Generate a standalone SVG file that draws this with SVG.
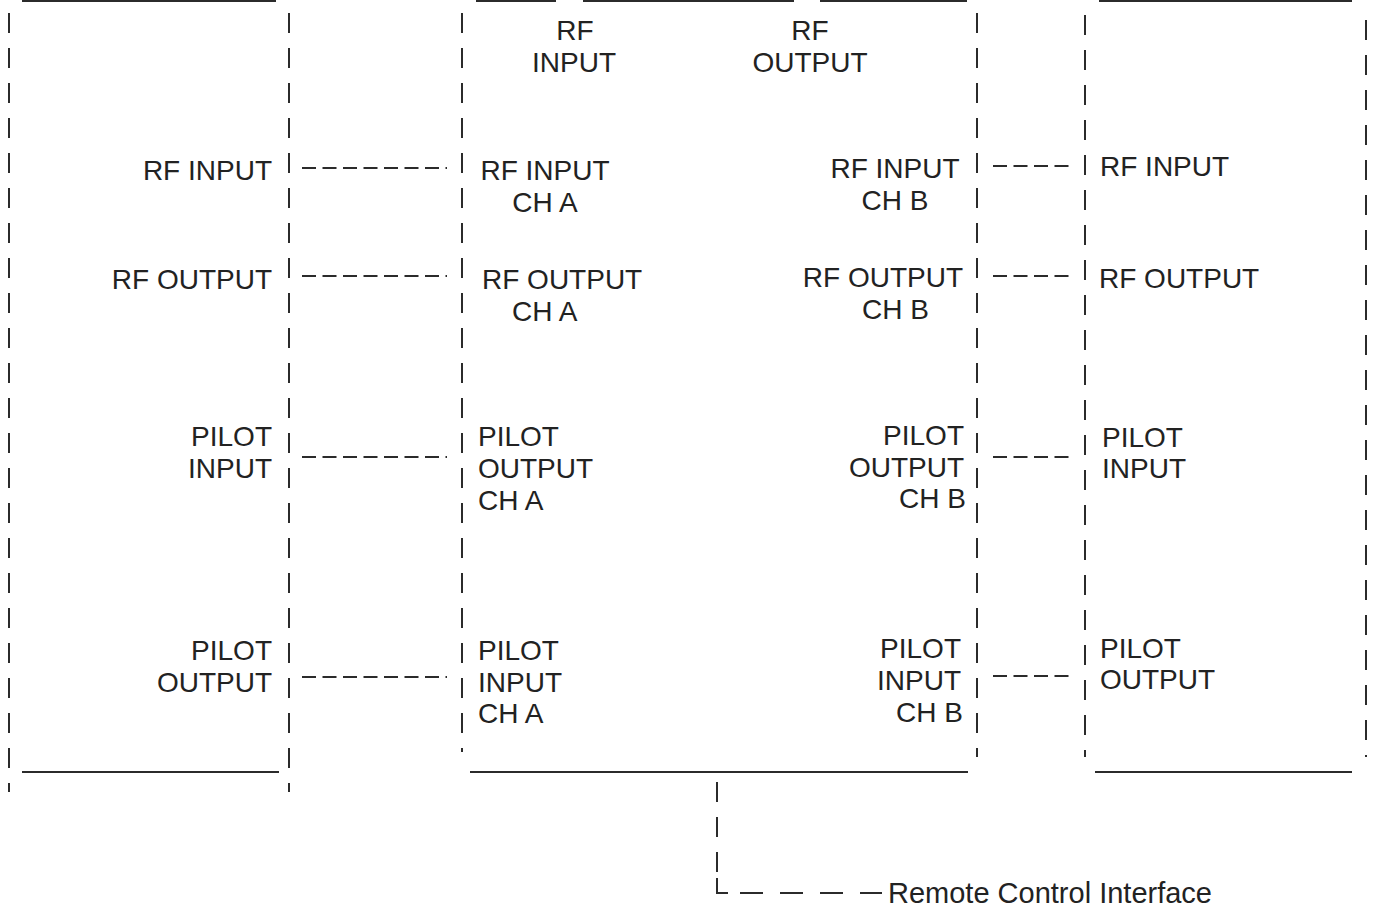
<svg xmlns="http://www.w3.org/2000/svg" width="1377" height="907" viewBox="0 0 1377 907">
<style>
  .bg{fill:#ffffff}
  .solid{stroke:#2b2b2b;stroke-width:2;fill:none}
  .vdash{stroke:#2b2b2b;stroke-width:2;fill:none;stroke-dasharray:20 15}
  .hdash{stroke:#2b2b2b;stroke-width:1.8;fill:none;stroke-dasharray:14 6.5}
  .ldash{stroke:#2b2b2b;stroke-width:2;fill:none;stroke-dasharray:23 17}
  text{font-family:"Liberation Sans",Arial,sans-serif;font-size:28px;fill:#222}
  .e{text-anchor:end}
  .m{text-anchor:middle}
</style>
<rect class="bg" x="0" y="0" width="1377" height="907"/>

<g id="left-unit">
  <line class="solid" x1="22" y1="1" x2="276" y2="1"/>
  <line class="vdash" x1="9" y1="13" x2="9" y2="792"/>
  <line class="vdash" x1="289" y1="13" x2="289" y2="792"/>
  <line class="solid" x1="22" y1="772" x2="279" y2="772"/>
  <text class="e" x="272" y="180">RF INPUT</text>
  <text class="e" x="272" y="289">RF OUTPUT</text>
  <text class="e" x="272" y="446">PILOT</text>
  <text class="e" x="272" y="478">INPUT</text>
  <text class="e" x="272" y="660">PILOT</text>
  <text class="e" x="272" y="692">OUTPUT</text>
</g>

<g id="center-unit">
  <line class="solid" x1="476" y1="1" x2="556" y2="1"/>
  <line class="solid" x1="583" y1="1" x2="794" y2="1"/>
  <line class="solid" x1="820" y1="1" x2="967" y2="1"/>
  <line class="vdash" x1="462" y1="13" x2="462" y2="752"/>
  <line class="vdash" x1="977" y1="13" x2="977" y2="757"/>
  <line class="solid" x1="470" y1="772" x2="968" y2="772"/>
  <text class="m" x="575" y="40">RF</text>
  <text class="m" x="574" y="72">INPUT</text>
  <text class="m" x="810" y="40">RF</text>
  <text class="m" x="810" y="72">OUTPUT</text>
  <text class="m" x="545" y="180">RF INPUT</text>
  <text class="m" x="545" y="212">CH A</text>
  <text x="482" y="289">RF OUTPUT</text>
  <text x="512" y="321">CH A</text>
  <text x="478" y="446">PILOT</text>
  <text x="478" y="478">OUTPUT</text>
  <text x="478" y="510">CH A</text>
  <text x="478" y="660">PILOT</text>
  <text x="478" y="692">INPUT</text>
  <text x="478" y="723">CH A</text>
  <text class="m" x="895" y="178">RF INPUT</text>
  <text class="m" x="895" y="210">CH B</text>
  <text class="e" x="963" y="287">RF OUTPUT</text>
  <text x="862" y="319">CH B</text>
  <text class="e" x="964" y="445">PILOT</text>
  <text class="e" x="964" y="477">OUTPUT</text>
  <text class="e" x="966" y="508">CH B</text>
  <text class="e" x="961" y="658">PILOT</text>
  <text class="e" x="961" y="690">INPUT</text>
  <text class="e" x="963" y="722">CH B</text>
</g>

<g id="right-unit">
  <line class="solid" x1="1099" y1="1" x2="1352" y2="1"/>
  <line class="vdash" x1="1085" y1="15" x2="1085" y2="757"/>
  <line class="vdash" x1="1366" y1="20" x2="1366" y2="757"/>
  <line class="solid" x1="1095" y1="772" x2="1352" y2="772"/>
  <text x="1100" y="176">RF INPUT</text>
  <text x="1099" y="288">RF OUTPUT</text>
  <text x="1102" y="447">PILOT</text>
  <text x="1102" y="478">INPUT</text>
  <text x="1100" y="658">PILOT</text>
  <text x="1100" y="689">OUTPUT</text>
</g>

<g id="remote-control">
  <text x="888" y="903" style="font-size:29px">Remote Control Interface</text>
</g>

<g id="connectors">
  <line class="hdash" x1="302" y1="168" x2="447" y2="168"/>
  <line class="hdash" x1="302" y1="276" x2="447" y2="276"/>
  <line class="hdash" x1="302" y1="457" x2="447" y2="457"/>
  <line class="hdash" x1="302" y1="677" x2="447" y2="677"/>
  <line class="hdash" x1="993" y1="166" x2="1075" y2="166"/>
  <line class="hdash" x1="993" y1="276" x2="1075" y2="276"/>
  <line class="hdash" x1="993" y1="457" x2="1075" y2="457"/>
  <line class="hdash" x1="993" y1="676" x2="1075" y2="676"/>
  <line class="vdash" x1="717" y1="782" x2="717" y2="872"/>
  <path class="solid" d="M717 878 V893 H728"/>
  <line class="ldash" x1="740" y1="893" x2="882" y2="893"/>
</g>
</svg>
